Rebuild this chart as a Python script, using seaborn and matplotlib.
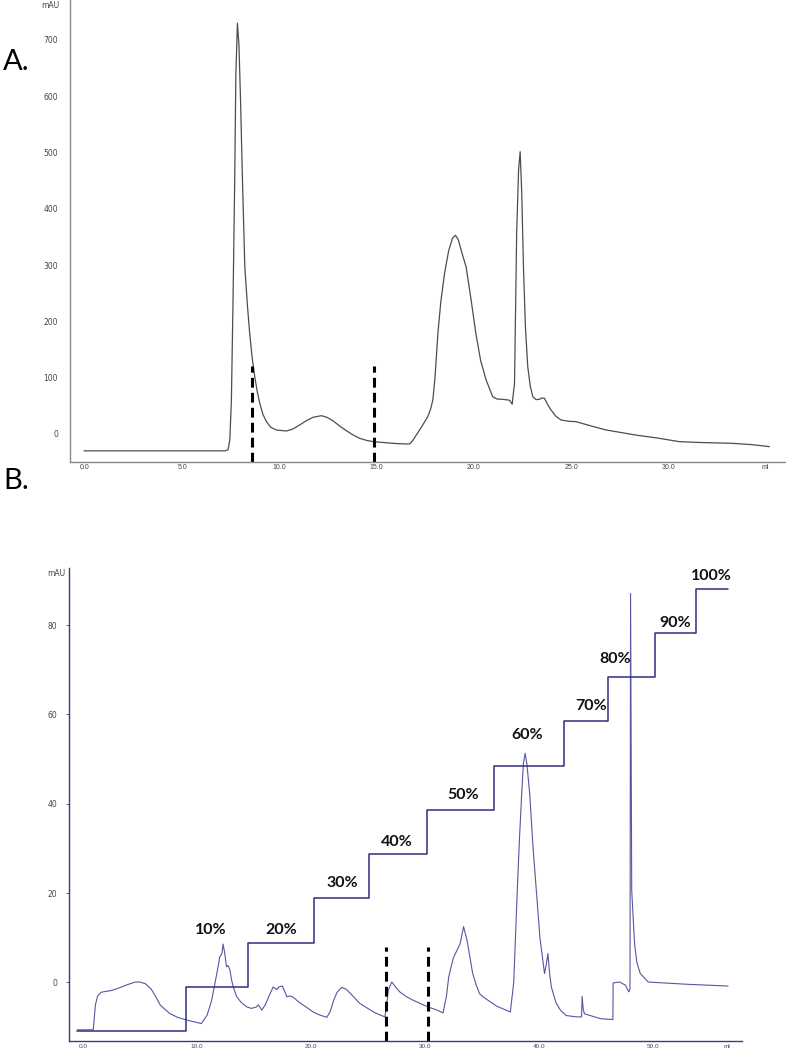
import numpy as np
import pandas as pd
import matplotlib
matplotlib.use("Agg")
import matplotlib.pyplot as plt
import seaborn as sns

# ---------------- data: panel A (size-exclusion trace) ----------------
top_ml = [-0.05, 7.2, 7.36, 7.45, 7.53, 7.62, 7.70, 7.76, 7.84, 7.92, 8.0, 8.1, 8.22, 8.35,
          8.47, 8.6, 8.73, 8.86, 8.99, 9.15, 9.33, 9.55, 9.85, 10.36, 10.7, 11.04, 11.4,
          11.73, 12.16, 12.45, 12.75, 13.1, 13.44, 13.8, 14.12, 14.5, 14.81, 15.3, 15.83,
          16.3, 16.69, 16.85, 17.04, 17.3, 17.63, 17.78, 17.89, 18.0, 18.15, 18.3, 18.49,
          18.7, 18.9, 19.05, 19.2, 19.4, 19.6, 19.85, 20.1, 20.35, 20.63, 20.97, 21.2,
          21.48, 21.83, 21.97, 22.09, 22.2, 22.3, 22.38, 22.46, 22.55, 22.65, 22.77, 22.9,
          23.03, 23.2, 23.37, 23.5, 23.63, 23.8, 23.97, 24.2, 24.48, 24.9, 25.25, 26.0,
          26.8, 27.5, 28.3, 29.4, 30.56, 31.5, 33.3, 34.3, 35.2]
top_mau = [-30, -30, -28, -10, 60, 250, 450, 640, 730, 690, 593, 450, 297, 230,
           179, 135, 102, 75, 54.5, 35, 22, 12, 7, 5.3, 9, 16, 24,
           29.6, 32.5, 29.5, 23.6, 14, 5.9, -2, -7.7, -11.5, -13.6, -15, -16.6,
           -17.5, -17.8, -12, -1.8, 12, 30.8, 45, 60.4, 100, 179, 235, 285,
           325, 348, 353, 345, 320, 297, 240, 179, 130, 96, 66, 62,
           61.6, 60, 53, 90, 356, 470, 501.5, 430, 297, 190, 119.6, 85,
           66, 61, 61.6, 64, 63.4, 52, 42.6, 32, 24.9, 22.5, 21.9, 14.5,
           7.1, 3, -1.8, -7, -13.6, -15, -16.6, -19, -22.5]
top_fraction_ml = [8.6, 14.86]
top_fraction_mark = 120
top_xticks = [0, 5, 10, 15, 20, 25, 30, 35]
top_xlabels = ["0.0", "5.0", "10.0", "15.0", "20.0", "25.0", "30.0", "ml"]
top_yticks = [0, 100, 200, 300, 400, 500, 600, 700]

# ---------------- data: panel B (step-gradient trace) ----------------
bot_ml = [-0.49, 0.91, 1.0, 1.1, 1.3, 1.6, 2.0, 2.5, 3.0, 3.5, 4.0, 4.6, 5.0, 5.5, 6.0,
          6.4, 6.8, 7.6, 8.3, 9.1, 10.4, 10.9, 11.3, 11.6, 11.9, 12.0, 12.2, 12.3, 12.45,
          12.6, 12.75, 12.9, 13.05, 13.2, 13.5, 13.9, 14.4, 14.8, 15.2, 15.4, 15.7, 16.0,
          16.3, 16.7, 17.0, 17.2, 17.5, 17.9, 18.2, 18.5, 19.0, 19.6, 20.2, 20.8, 21.4,
          21.7, 22.0, 22.3, 22.7, 23.1, 23.6, 24.3, 25.0, 25.5, 26.0, 26.5, 26.65, 26.8,
          27.1, 27.4, 27.8, 28.4, 29.0, 29.7, 30.3, 31.0, 31.6, 31.9, 32.1, 32.5, 32.9,
          33.1, 33.4, 33.7, 34.0, 34.2, 34.5, 34.8, 35.1, 36.3, 37.5, 37.8, 38.1, 38.3,
          38.5, 38.65, 38.8, 38.95, 39.2, 39.5, 39.8, 40.1, 40.5, 40.65, 40.8, 40.95,
          41.1, 41.5, 41.9, 42.4, 43.3, 43.75, 43.8, 43.9, 44.0, 45.4, 46.5, 46.52, 47.1,
          47.6, 47.9, 48.0, 48.05, 48.15, 48.4, 48.6, 48.9, 49.6, 53.0, 56.6]
bot_mau = [-10.6, -10.6, -8, -5, -3, -2.2, -2.0, -1.8, -1.4, -0.9, -0.4, 0.1, 0.1, -0.3, -1.5,
           -3.2, -5.1, -6.9, -7.8, -8.4, -9.2, -7.3, -4, 0, 4, 5.7, 6.5, 8.6, 6.5,
           3.5, 3.8, 2.8, 0.5, -1, -3.2, -4.5, -5.5, -5.8, -5.5, -5.0, -6.2, -5,
           -3.2, -1.0, -1.6, -1.0, -0.8, -3.2, -3.0, -3.4, -4.5, -5.5, -6.6, -7.3, -7.8,
           -6.5, -4.0, -2.2, -1.1, -1.5, -2.8, -4.7, -5.8, -6.6, -7.2, -7.7, -5, -1.7,
           0.1, -0.9, -2.1, -3.2, -4.0, -4.8, -5.5, -6.1, -6.8, -3, 1.3, 5.5, 7.6,
           8.7, 12.5, 9.5, 5.0, 2.0, -0.5, -2.5, -3.2, -5.3, -6.6, 0, 19.9, 32,
           42.3, 49, 51.3, 49, 42.3, 30, 19.9, 10, 2.0, 4, 6.5, 2,
           -1.0, -4.5, -6.2, -7.4, -7.7, -7.7, -3.1, -6, -7.0, -8.1, -8.3, -0.1, 0.1,
           -0.6, -2.1, -1.5, 87.1, 20.7, 8.7, 4.5, 2.0, 0.1, -0.4, -0.8]
step_start_ml = [-0.49, 9.04, 14.48, 20.3, 25.1, 30.16, 36.1, 42.2, 46.1, 50.2, 53.8]
step_end_ml = 56.6
step_pct = [0, 10, 20, 30, 40, 50, 60, 70, 80, 90, 100]
step_labels = ["", "10%", "20%", "30%", "40%", "50%", "60%", "70%", "80%", "90%", "100%"]
bot_fraction_ml = [26.6, 30.3]
bot_fraction_mark = 8.0
bot_xticks = [0, 10, 20, 30, 40, 50, 56.5]
bot_xlabels = ["0.0", "10.0", "20.0", "30.0", "40.0", "50.0", "ml"]
bot_yticks = [0, 20, 40, 60, 80]

# label anchor positions for the gradient percentages (ml, % on gradient scale)
label_pos = [None, (11.21, 22.85), (17.44, 22.85), (22.75, 33.4), (27.53, 42.8),
             (33.37, 53.4), (38.98, 66.97), (44.57, 73.4), (46.68, 84.2),
             (52.0, 92.24), (55.16, 102.8)]

# ---------------- style ----------------
sns.set_style("white")
plt.rcParams["font.family"] = ["DejaVu Sans"]

W, H = 786, 1050
fig = plt.figure(figsize=(W / 100, H / 100), dpi=100)

def frac_axes(x0, y0, x1, y1):
    return fig.add_axes([x0 / W, 1 - y1 / H, (x1 - x0) / W, (y1 - y0) / H])

# ---------------- panel A ----------------
axA = frac_axes(70, 0, 785, 461.5)
dfA = pd.DataFrame({"ml": top_ml, "mAU": top_mau})
sns.lineplot(data=dfA, x="ml", y="mAU", sort=False, estimator=None, ax=axA,
             color="#4d4d4d", linewidth=0.9)
axA.set_xlim(-0.77, 36.0)
axA.set_ylim(-48.9, 771)
axA.vlines(top_fraction_ml, -48.9, top_fraction_mark, colors="black",
           linewidth=2.2, linestyles=(0, (3.2, 1.7)))

# ---------------- panel B ----------------
axB = frac_axes(69.3, 568.4, 741.7, 1041)
dfB = pd.DataFrame({"ml": bot_ml, "mAU": bot_mau})
sns.lineplot(data=dfB, x="ml", y="mAU", sort=False, estimator=None, ax=axB,
             color="#5656a3", linewidth=0.8)
axB.set_xlim(-1.19, 57.8)
axB.set_ylim(-13.1, 92.7)
axB.vlines(bot_fraction_ml, -13.1, bot_fraction_mark, colors="black",
           linewidth=2.2, linestyles=(0, (3.2, 1.7)))

axG = axB.twinx()
dfG = pd.DataFrame({"ml": step_start_ml + [step_end_ml],
                    "pct": step_pct + [step_pct[-1]]})
sns.lineplot(data=dfG, x="ml", y="pct", sort=False, estimator=None, ax=axG,
             color="#2e2e7c", linewidth=1.1, drawstyle="steps-post")
axG.set_ylim(-2.22, 104.6)
axG.axis("off")
for lab, pos in zip(step_labels, label_pos):
    if pos is None:
        continue
    axG.text(pos[0], pos[1], lab, ha="center", va="center", fontsize=11.5,
             fontweight="bold", family=["Lato", "DejaVu Sans"], color="#111111")

# ---------------- axes styling ----------------
for ax, xt, xl, yt, col, lcol, xlab_size, mid in [
        (axA, top_xticks, top_xlabels, top_yticks, "#8a8a8a", "#444444", 5.0, 2.5),
        (axB, bot_xticks, bot_xlabels, bot_yticks, "#3a3a80", "#444455", 4.6, 5.0)]:
    for s in ["top", "right"]:
        ax.spines[s].set_visible(False)
    for s in ["left", "bottom"]:
        ax.spines[s].set_color(col)
        ax.spines[s].set_linewidth(1.0)
    ax.set_xlabel("")
    ax.set_ylabel("")
    ax.set_xticks(xt)
    ax.set_xticklabels(xl, fontsize=xlab_size, color=lcol, family=["Liberation Sans", "DejaVu Sans"])
    ax.set_xticks(np.arange(mid, xt[-2] + 2 * mid, 2 * mid), minor=True)
    ax.set_yticks(yt)
    ax.set_yticklabels([str(v) for v in yt], fontsize=5.5, color=lcol)
    ax.tick_params(axis="x", which="major", length=0, pad=2)
    ax.tick_params(axis="x", which="minor", length=2.5, width=0.6, color="#bbbbbb")
    ax.tick_params(axis="y", which="major", length=2, width=0.6, color=col, pad=6.5)
    ax.grid(False)

axA.text(-0.0275, 762, "mAU", transform=axA.get_yaxis_transform(), ha="center",
         va="center", fontsize=5.5, color="#444444")
axB.text(-0.02, 91.5, "mAU", transform=axB.get_yaxis_transform(), ha="center",
         va="center", fontsize=5.5, color="#444455")

fig.text(3 / W, 1 - 70 / H, "A.", fontsize=21, family=["Lato", "DejaVu Sans"],
         va="baseline", ha="left", color="black")
fig.text(3 / W, 1 - 489 / H, "B.", fontsize=21, family=["Lato", "DejaVu Sans"],
         va="baseline", ha="left", color="black")

fig.savefig("out.png", dpi=100)
